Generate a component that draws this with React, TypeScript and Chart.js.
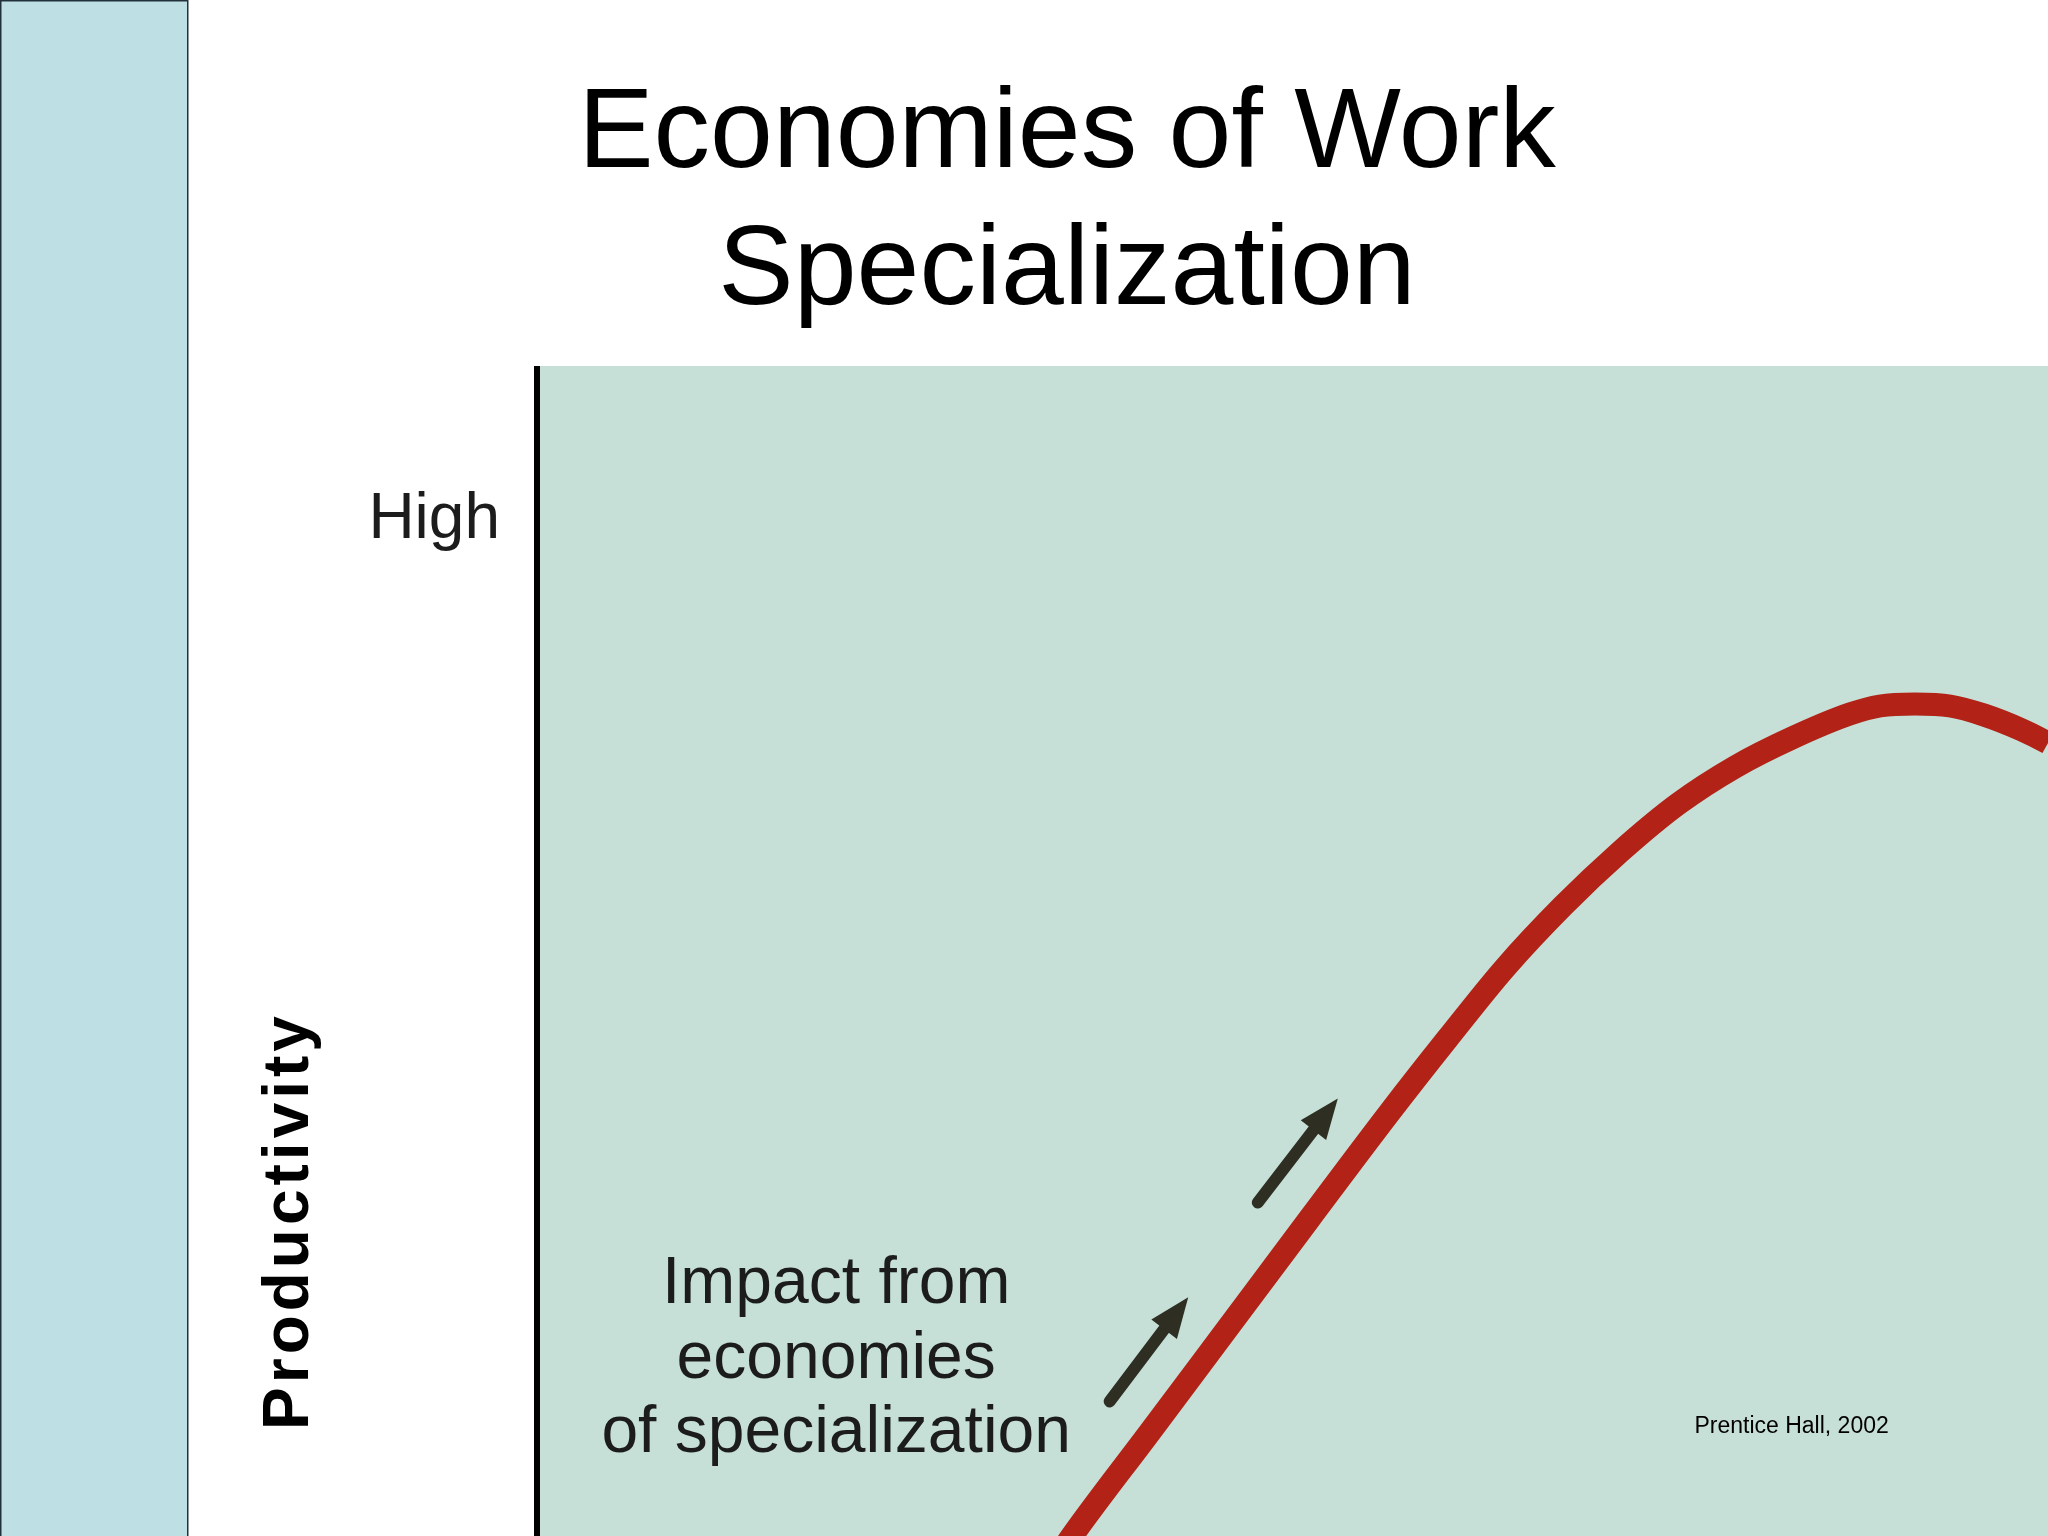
import React, { useEffect, useRef } from "react";
import { Chart, registerables } from "chart.js";

Chart.register(...registerables);

// ---- data (axis units: 0..100 on both axes) ----
const titleLines = ["Economies of Work", "Specialization"];
const yAxisTitle = "Productivity";
const yTickLabel = "High";
const yTickValue = 86.8;

const specialization = [32.83, 35.41, 40.57, 45.86, 51.16, 56.45, 60.29, 64.06, 67.9, 71.67, 75.51, 79.29, 83.06, 86.9, 88.88, 91.2, 93.51, 95.76, 98.28, 100, 102.98];
const productivity = [-4.96, 0, 8.89, 18.03, 27.18, 36.24, 42.56, 48.55, 53.85, 58.46, 62.56, 65.73, 68.2, 70.26, 70.94, 71.11, 70.94, 70.17, 68.89, 67.78, 65.47];

const arrowTailX = [37.9, 47.7];
const arrowTailY = [11.5, 28.5];
const arrowTipX = [43.1, 53.0];
const arrowTipY = [20.4, 37.4];

const noteLines = ["Impact from", "economies", "of specialization"];
const noteX = 19.8;
const noteY = 19.9;

const sourceText = "Prentice Hall, 2002";
const sourceX = 76.6;
const sourceY = 8.8;

// ---- styles ----
const STRIP = "#BEE0E5";
const PLOT_BG = "#C6E0D8";
const CURVE = "#B22216";
const ARROW = "#2E2E22";
const TEXT = "#1c1c1c";
const FONT = '"Liberation Sans", Arial, sans-serif';

function drawArrow(ctx: CanvasRenderingContext2D, x1: number, y1: number, x2: number, y2: number) {
  const ang = Math.atan2(y2 - y1, x2 - x1);
  const c = Math.cos(ang), s = Math.sin(ang);
  const headLen = 40, headW = 16;
  const bx = x2 - headLen * c, by = y2 - headLen * s;
  ctx.strokeStyle = ARROW;
  ctx.fillStyle = ARROW;
  ctx.lineWidth = 12;
  ctx.lineCap = "round";
  ctx.beginPath();
  ctx.moveTo(x1, y1);
  ctx.lineTo(bx + 6 * c, by + 6 * s);
  ctx.stroke();
  ctx.beginPath();
  ctx.moveTo(x2, y2);
  ctx.lineTo(bx - headW * s, by + headW * c);
  ctx.lineTo(bx + headW * s, by - headW * c);
  ctx.closePath();
  ctx.fill();
}

const slidePlugin = {
  id: "slide",
  beforeDraw(chart: any) {
    const { ctx, chartArea: a, width, height } = chart;
    ctx.save();
    ctx.fillStyle = "#ffffff";
    ctx.fillRect(0, 0, width, height);
    ctx.fillStyle = STRIP;
    ctx.fillRect(0, 0, 188, height);
    ctx.strokeStyle = "#22303c";
    ctx.lineWidth = 1.5;
    ctx.strokeRect(0.75, 0.75, 187, height + 10);
    ctx.fillStyle = PLOT_BG;
    ctx.fillRect(a.left, a.top, a.right - a.left, a.bottom - a.top);
    ctx.fillStyle = "#000000";
    ctx.fillRect(a.left - 3, a.top, 6, a.bottom - a.top);
    ctx.restore();
  },
  afterDraw(chart: any) {
    const { ctx, chartArea: a } = chart;
    const xs = chart.scales.x, ys = chart.scales.y;
    ctx.save();
    // title
    ctx.fillStyle = "#000000";
    ctx.font = `113px ${FONT}`;
    ctx.textAlign = "center";
    ctx.textBaseline = "alphabetic";
    ctx.fillText(titleLines[0], 1067, 167);
    ctx.fillText(titleLines[1], 1067, 304);

    // tick label
    ctx.fillStyle = TEXT;
    ctx.font = `64px ${FONT}`;
    ctx.textAlign = "right";
    ctx.textBaseline = "middle";
    ctx.fillText(yTickLabel, a.left - 37, ys.getPixelForValue(yTickValue));

    // axis title rotated
    ctx.save();
    ctx.translate(290, 1221);
    ctx.rotate(-Math.PI / 2);
    ctx.font = `bold 64px ${FONT}`;
    (ctx as any).letterSpacing = "4px";
    ctx.textAlign = "center";
    ctx.textBaseline = "middle";
    ctx.fillStyle = "#000000";
    ctx.fillText(yAxisTitle, 0, 0);
    ctx.restore();

    // note
    ctx.fillStyle = TEXT;
    ctx.font = `66px ${FONT}`;
    ctx.textAlign = "center";
    ctx.textBaseline = "alphabetic";
    const nx = xs.getPixelForValue(noteX);
    const ny = ys.getPixelForValue(noteY);
    noteLines.forEach((t, i) => ctx.fillText(t, nx, ny + i * 74.5));

    // source
    ctx.fillStyle = "#000000";
    ctx.font = `23px ${FONT}`;
    ctx.textAlign = "left";
    ctx.fillText(sourceText, xs.getPixelForValue(sourceX), ys.getPixelForValue(sourceY));

    // arrows
    for (let i = 0; i < arrowTailX.length; i++) {
      drawArrow(
        ctx,
        xs.getPixelForValue(arrowTailX[i]),
        ys.getPixelForValue(arrowTailY[i]),
        xs.getPixelForValue(arrowTipX[i]),
        ys.getPixelForValue(arrowTipY[i])
      );
    }
    ctx.restore();
  },
};

export default function App() {
  const ref = useRef<HTMLCanvasElement | null>(null);
  useEffect(() => {
    if (!ref.current) return;
    const chart = new Chart(ref.current, {
      type: "line",
      data: {
        datasets: [
          {
            data: specialization.map((x, i) => ({ x, y: productivity[i] })),
            borderColor: CURVE,
            borderWidth: 23,
            pointRadius: 0,
            cubicInterpolationMode: "monotone",
            fill: false,
            clip: 0,
          },
        ],
      },
      options: {
        responsive: false,
        animation: false,
        events: [],
        layout: { padding: { left: 537, top: 366, right: 0, bottom: 0 } },
        plugins: { legend: { display: false }, tooltip: { enabled: false }, title: { display: false } },
        scales: {
          x: { type: "linear", min: 0, max: 100, display: false },
          y: { type: "linear", min: 0, max: 100, display: false },
        },
      },
      plugins: [slidePlugin],
    } as any);
    return () => chart.destroy();
  }, []);
  return (
    <div style={{ position: "absolute", left: 0, top: 0, width: 2048, height: 1536 }}>
      <canvas ref={ref} width={2048} height={1536} />
    </div>
  );
}
